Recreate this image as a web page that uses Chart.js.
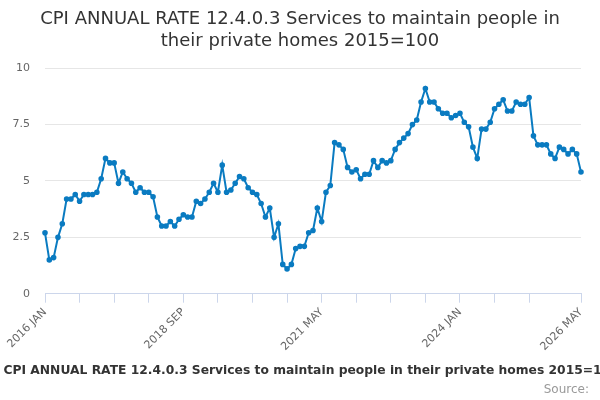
<!DOCTYPE html>
<html>
<head>
<meta charset="utf-8">
<script src="https://cdn.jsdelivr.net/npm/chart.js@4"></script>
<style>
  body { margin: 0; background: #fff; }
  #cpi { display: block; }
</style>
</head>
<body>
<canvas id="cpi" width="600" height="400"></canvas>
<script>
const seriesName = "CPI ANNUAL RATE 12.4.0.3 Services to maintain people in their private homes 2015=100";
const titleLines = ["CPI ANNUAL RATE 12.4.0.3 Services to maintain people in", "their private homes 2015=100"];

const monthNames = ["JAN", "FEB", "MAR", "APR", "MAY", "JUN", "JUL", "AUG", "SEP", "OCT", "NOV", "DEC"];
const firstYear = 2016;
const lastYear = 2026;
const lastMonth = 5;

// annual rate, one value per month, 2016 JAN .. 2026 MAY
const values = [
    2.7, 1.5, 1.6, 2.5, 3.1, 4.2, 4.2, 4.4, 4.1, 4.4, 4.4, 4.4,
    4.5, 5.1, 6.0, 5.8, 5.8, 4.9, 5.4, 5.1, 4.9, 4.5, 4.7, 4.5,
    4.5, 4.3, 3.4, 3.0, 3.0, 3.2, 3.0, 3.3, 3.5, 3.4, 3.4, 4.1,
    4.0, 4.2, 4.5, 4.9, 4.5, 5.7, 4.5, 4.6, 4.9, 5.2, 5.1, 4.7,
    4.5, 4.4, 4.0, 3.4, 3.8, 2.5, 3.1, 1.3, 1.1, 1.3, 2.0, 2.1,
    2.1, 2.7, 2.8, 3.8, 3.2, 4.5, 4.8, 6.7, 6.6, 6.4, 5.6, 5.4,
    5.5, 5.1, 5.3, 5.3, 5.9, 5.6, 5.9, 5.8, 5.9, 6.4, 6.7, 6.9,
    7.1, 7.5, 7.7, 8.5, 9.1, 8.5, 8.5, 8.2, 8.0, 8.0, 7.8, 7.9,
    8.0, 7.6, 7.4, 6.5, 6.0, 7.3, 7.3, 7.6, 8.2, 8.4, 8.6, 8.1,
    8.1, 8.5, 8.4, 8.4, 8.7, 7.0, 6.6, 6.6, 6.6, 6.2, 6.0, 6.5,
    6.4, 6.2, 6.4, 6.2, 5.4
];

const tickLabels = ["2016 JAN", "2018 SEP", "2021 MAY", "2024 JAN", "2026 MAY"];
const gridTicks = [0, 8, 16, 24, 32, 40, 48, 56, 64, 72, 80, 88, 96, 104, 112, 124];
const yTicks = [0, 2.5, 5, 7.5, 10];

const labels = [];
for (let y = firstYear; y <= lastYear; y++) {
    monthNames.forEach((m, i) => {
        if (y === lastYear && i >= lastMonth) return;
        labels.push(y + " " + m);
    });
}

const sourcePlugin = {
    id: "source",
    afterDraw(chart) {
        const ctx = chart.ctx;
        ctx.save();
        ctx.font = "12px 'DejaVu Sans'";
        ctx.fillStyle = "#999999";
        ctx.textAlign = "right";
        ctx.textBaseline = "middle";
        ctx.fillText("Source:", 589, 390);
        ctx.restore();
    }
};

new Chart(document.getElementById("cpi"), {
    type: "line",
    data: {
        labels: labels,
        datasets: [{
            label: seriesName,
            data: values,
            borderColor: "#0a7bc1",
            backgroundColor: "#0a7bc1",
            borderWidth: 2,
            pointRadius: 1.8,
            pointHoverRadius: 3,
            tension: 0,
            fill: false
        }]
    },
    options: {
        responsive: false,
        animation: false,
        devicePixelRatio: 1,
        layout: { padding: { left: 0, right: 0, top: 0, bottom: 13 } },
        plugins: {
            title: {
                display: true,
                text: titleLines,
                color: "#333333",
                font: { family: "'DejaVu Sans'", size: 18, weight: "normal", lineHeight: 1.2 },
                padding: { top: 9, bottom: 16 }
            },
            legend: {
                position: "bottom",
                labels: {
                    color: "#333333",
                    font: { family: "'DejaVu Sans'", size: 12.3, weight: "bold" },
                    boxWidth: 16,
                    boxHeight: 2,
                    padding: 8
                }
            },
            tooltip: { enabled: false }
        },
        scales: {
            x: {
                offset: false,
                afterBuildTicks: axis => {
                    axis.ticks = gridTicks.map(v => ({ value: v }));
                },
                afterFit: axis => { axis.height = 63; },
                ticks: {
                    autoSkip: false,
                    minRotation: 45,
                    maxRotation: 45,
                    color: "#666666",
                    font: { family: "'DejaVu Sans'", size: 11 },
                    callback: function (value) {
                        const lab = this.getLabelForValue(value);
                        return tickLabels.includes(lab) ? lab : "";
                    }
                },
                grid: {
                    drawOnChartArea: false,
                    drawTicks: true,
                    tickLength: 9,
                    color: "#ccd6eb"
                },
                border: { color: "#ccd6eb", width: 1 }
            },
            y: {
                min: 0,
                max: 10,
                afterBuildTicks: axis => {
                    axis.ticks = yTicks.map(v => ({ value: v }));
                },
                afterFit: axis => { axis.width = 45; },
                ticks: {
                    color: "#666666",
                    font: { family: "'DejaVu Sans'", size: 11 },
                    padding: 15,
                    callback: v => String(v)
                },
                grid: { color: "#e6e6e6", drawTicks: false },
                border: { display: false }
            },
            // empty right-hand axis, only keeps the plot clear of the right edge
            yRight: {
                position: "right",
                afterFit: axis => { axis.width = 19; },
                ticks: { display: false },
                grid: { display: false },
                border: { display: false }
            }
        }
    },
    plugins: [sourcePlugin]
});
</script>
</body>
</html>
